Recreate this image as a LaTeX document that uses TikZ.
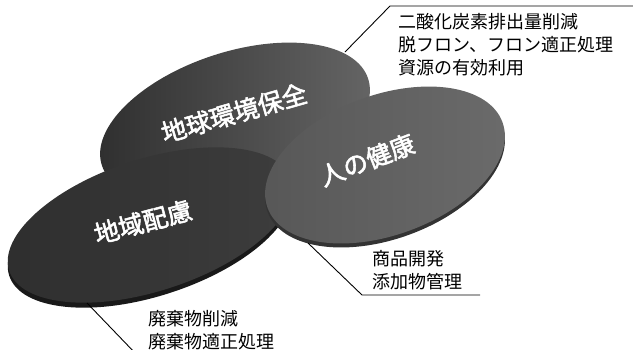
\documentclass[tikz,border=0pt]{standalone}
\usepackage{fontspec}
\setmainfont{Noto Sans CJK JP}
\newfontfamily\jpbold{Noto Sans CJK JP}[FakeBold=2.2]
\usetikzlibrary{shapes.geometric}
\begin{document}
\begin{tikzpicture}[x=1pt,y=-1pt,
  disc/.style={ellipse, inner sep=0pt, draw=none},
  disclabel/.style={text=white, inner sep=0pt, font=\jpbold\fontsize{25}{25}\selectfont},
  callout/.style={align=left, inner sep=0pt, font=\fontsize{18}{23}\selectfont},
  leader/.style={line width=0.9pt, black}]
\useasboundingbox (0,0) rectangle (633,349);
\clip (0,0) rectangle (633,349);
% discs
\node[disc, minimum width=280pt, minimum height=140pt, rotate=18,
      left color=black!82, right color=black!60] (gep) at (235,122) {};
\node[disc, minimum width=296pt, minimum height=132pt, rotate=18,
      fill=black!90] (chrim) at (150,230) {};
\node[disc, minimum width=296pt, minimum height=132pt, rotate=18,
      left color=black!82, right color=black!76] (ch) at (150,225) {};
\node[disc, minimum width=250pt, minimum height=140pt, rotate=20,
      fill=black!80] (hhrim) at (385,169) {};
\node[disc, minimum width=250pt, minimum height=140pt, rotate=20,
      left color=black!66, right color=black!58] (hh) at (385,165) {};
% labels on discs
\node[disclabel, rotate=16] (l1) at (234,113) {地球環境保全};
\node[disclabel, rotate=21] (l2) at (367,160) {人の健康};
\node[disclabel, rotate=15] (l3) at (143,222) {地域配慮};
% leaders
\coordinate (a1) at (345,52); \coordinate (k1) at (390,6); \coordinate (e1) at (633,6);
\coordinate (a2) at (308,243); \coordinate (k2) at (362,295); \coordinate (e2) at (480,295);
\coordinate (a3) at (87,303); \coordinate (k3) at (137,355);
\draw[leader] (a1) -- (k1) -- (e1);
\draw[leader] (a2) -- (k2) -- (e2);
\draw[leader] (a3) -- (k3);
% callout texts
\node[callout, anchor=north west] (t1) at (398,13) {二酸化炭素排出量削減\\脱フロン、フロン適正処理\\資源の有効利用};
\node[callout, anchor=north west] (t2) at (372,250) {商品開発\\添加物管理};
\node[callout, anchor=north west] (t3) at (148,310) {廃棄物削減\\廃棄物適正処理};
\end{tikzpicture}
\end{document}
